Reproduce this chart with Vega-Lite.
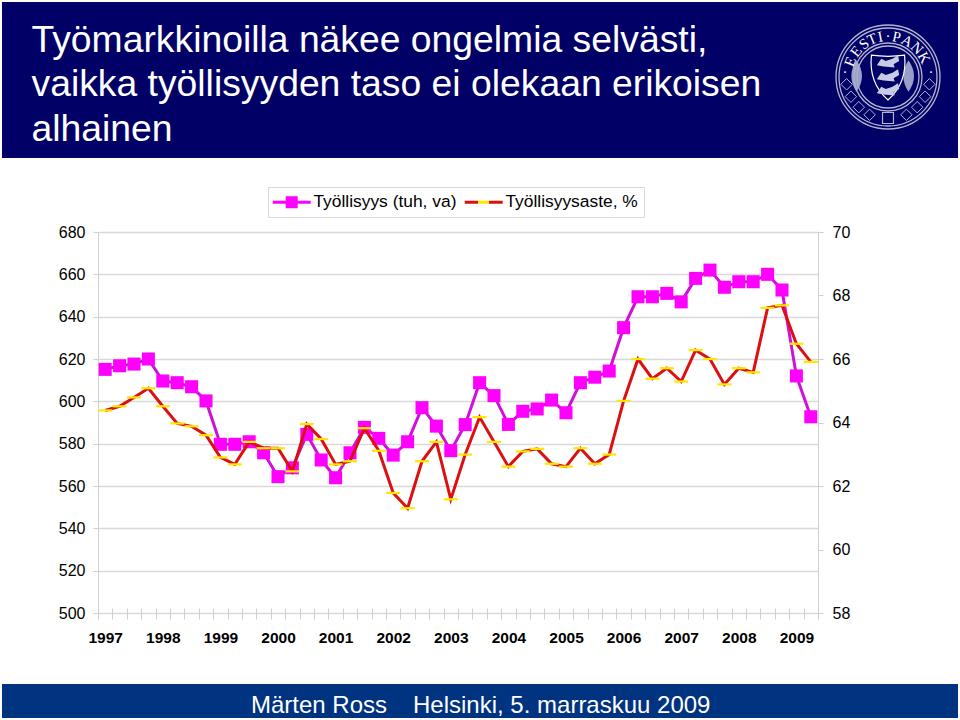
{"$schema":"https://vega.github.io/schema/vega-lite/v6.json","background":"white","padding":{"left":1,"top":2,"right":2,"bottom":0},"spacing":0,"align":"none","bounds":"full","center":false,"config":{"font":"Liberation Sans","view":{"stroke":null}},"vconcat":[
{"width":956,"height":156,"view":{"fill":"#000066","stroke":null},
"encoding":{"x":{"field":"x","type":"quantitative","scale":{"domain":[0,956]},"axis":null},"y":{"field":"y","type":"quantitative","scale":{"domain":[156,0]},"axis":null}},
"layer":[
{"data":{"values":[{"x":29.5,"y":50,"t":"Työmarkkinoilla näkee ongelmia selvästi,"},{"x":29.5,"y":94,"t":"vaikka työllisyyden taso ei olekaan erikoisen"},{"x":29.5,"y":139,"t":"alhainen"}]},"mark":{"type":"text","align":"left","baseline":"alphabetic","fontSize":37.3,"color":"white"},"encoding":{"text":{"field":"t"}}},
{"data":{"values":[{"x":886,"y":75,"d":104},{"x":886,"y":75,"d":98},{"x":886,"y":75,"d":68},{"x":886,"y":75,"d":62}]},"mark":{"type":"point","shape":"circle","filled":false,"color":"white","strokeWidth":1.3},"encoding":{"size":{"field":"d","type":"quantitative","scale":{"type":"pow","exponent":2,"domain":[10,100],"range":[100,10000]},"legend":null}}},
{"data":{"values":[{"x":860,"y":74},{"x":912,"y":74}]},"mark":{"type":"point","shape":"M-0.35,-1Q0.35,0 -0.35,1Q-1,0 -0.35,-1Z","filled":true,"color":"#aab0d0","size":1000,"opacity":0.9}},
{"data":{"values":[{"x":886,"y":75}]},"mark":{"type":"point","shape":"M-0.72,-0.95Q0,-0.85 0.72,-0.95Q0.85,0.25 0,1Q-0.85,0.25 -0.72,-0.95Z","filled":true,"fill":"#000066","stroke":"white","strokeWidth":1.2,"size":2116,"opacity":1}},
{"data":{"values":[{"x":886,"y":60},{"x":886,"y":74},{"x":886,"y":88}]},"mark":{"type":"point","shape":"M-1,0.3L-0.6,-0.3L-0.2,-0.1L0.4,-0.3L0.9,-0.6L1,-0.1L0.5,0.2L0.6,0.5L-0.4,0.4Z","filled":true,"color":"#c8cbe4","size":500,"opacity":1}},
{"data":{"values":[{"x":927.4,"y":82.3},{"x":923.1,"y":94.7},{"x":915.2,"y":105.2},{"x":904.4,"y":112.8},{"x":844.6,"y":82.3},{"x":848.9,"y":94.7},{"x":856.8,"y":105.2},{"x":867.6,"y":112.8}]},"mark":{"type":"point","shape":"diamond","filled":false,"color":"white","strokeWidth":1,"size":130}},
{"data":{"values":[{"x":886,"y":116}]},"mark":{"type":"point","shape":"square","filled":false,"color":"white","strokeWidth":1.2,"size":120}},
{"data":{"values":[{"x":848,"y":59.6,"a":-68,"t":"E"},{"x":854.1,"y":49.2,"a":-51,"t":"E"},{"x":861.9,"y":41.8,"a":-36,"t":"S"},{"x":870,"y":37.2,"a":-23,"t":"T"},{"x":878.2,"y":34.7,"a":-11,"t":"I"},{"x":886,"y":34,"a":0,"t":"·"},{"x":894.5,"y":34.9,"a":12,"t":"P"},{"x":905.2,"y":38.8,"a":28,"t":"A"},{"x":915,"y":46,"a":45,"t":"N"},{"x":922.2,"y":55.8,"a":62,"t":"K"},{"x":843,"y":70,"a":0,"t":"·"},{"x":929,"y":70,"a":0,"t":"·"}]},"mark":{"type":"text","font":"Liberation Serif","fontSize":15,"color":"white","baseline":"middle"},"encoding":{"text":{"field":"t"},"angle":{"field":"a","type":"quantitative","scale":null}}}
]},
{"width":956,"height":65,"view":{"stroke":null},"data":{"values":[{"x":0}]},"mark":{"type":"rule","opacity":0},"encoding":{}},
{"hconcat":[
{"width":96,"height":381,"view":{"stroke":null},"data":{"values":[{"x":0}]},"mark":{"type":"rule","opacity":0},"encoding":{}},
{"width":720,"height":381,"view":{"stroke":null},
"data":{"values":[
{"q":"1997Q1","emp":615.1,"rate":64.38},{"q":"1997Q2","emp":616.8,"rate":64.51},{"q":"1997Q3","emp":617.6,"rate":64.79},{"q":"1997Q4","emp":620,"rate":65.08},
{"q":"1998Q1","emp":609.6,"rate":64.51},{"q":"1998Q2","emp":608.8,"rate":63.97},{"q":"1998Q3","emp":606.9,"rate":63.88},{"q":"1998Q4","emp":600.2,"rate":63.6},
{"q":"1999Q1","emp":579.7,"rate":62.9},{"q":"1999Q2","emp":579.7,"rate":62.68},{"q":"1999Q3","emp":580.9,"rate":63.39},{"q":"1999Q4","emp":575.7,"rate":63.19},
{"q":"2000Q1","emp":564.4,"rate":63.19},{"q":"2000Q2","emp":568.6,"rate":62.46},{"q":"2000Q3","emp":584.4,"rate":63.95},{"q":"2000Q4","emp":572.3,"rate":63.48},
{"q":"2001Q1","emp":563.9,"rate":62.68},{"q":"2001Q2","emp":575.7,"rate":62.78},{"q":"2001Q3","emp":587.7,"rate":63.82},{"q":"2001Q4","emp":582.5,"rate":63.11},
{"q":"2002Q1","emp":574.6,"rate":61.78},{"q":"2002Q2","emp":580.9,"rate":61.3},{"q":"2002Q3","emp":597,"rate":62.78},{"q":"2002Q4","emp":588.3,"rate":63.39},
{"q":"2003Q1","emp":576.7,"rate":61.58},{"q":"2003Q2","emp":589,"rate":62.99},{"q":"2003Q3","emp":608.8,"rate":64.17},{"q":"2003Q4","emp":602.7,"rate":63.39},
{"q":"2004Q1","emp":589.1,"rate":62.61},{"q":"2004Q2","emp":595.3,"rate":63.09},{"q":"2004Q3","emp":596.4,"rate":63.17},{"q":"2004Q4","emp":600.6,"rate":62.7},
{"q":"2005Q1","emp":594.6,"rate":62.61},{"q":"2005Q2","emp":608.8,"rate":63.19},{"q":"2005Q3","emp":611.4,"rate":62.7},{"q":"2005Q4","emp":614.3,"rate":62.99},
{"q":"2006Q1","emp":634.8,"rate":64.68},{"q":"2006Q2","emp":649.4,"rate":66},{"q":"2006Q3","emp":649.4,"rate":65.38},{"q":"2006Q4","emp":651,"rate":65.71},
{"q":"2007Q1","emp":647,"rate":65.29},{"q":"2007Q2","emp":658.1,"rate":66.28},{"q":"2007Q3","emp":662,"rate":66},{"q":"2007Q4","emp":653.9,"rate":65.2},
{"q":"2008Q1","emp":656.5,"rate":65.71},{"q":"2008Q2","emp":656.5,"rate":65.58},{"q":"2008Q3","emp":660,"rate":67.61},{"q":"2008Q4","emp":652.6,"rate":67.69},
{"q":"2009Q1","emp":612,"rate":66.48},{"q":"2009Q2","emp":592.7,"rate":65.91}]},
"encoding":{"x":{"field":"q","type":"ordinal","sort":null,"scale":{"type":"band","paddingInner":0,"paddingOuter":0},"axis":{"title":" ","titleFontSize":1,"titlePadding":37.5,"labelExpr":"indexof(datum.label,'Q1')>0 ? substring(datum.label,0,4) : ''","labelOverlap":false,"labelAngle":0,"labelFontWeight":"bold","labelFontSize":15.5,"labelColor":"black","labelPadding":11,"domain":false,"offset":-5,"ticks":true,"tickBand":"extent","tickSize":11,"tickColor":"#d0d0d0","grid":false}}},
"layer":[
{"encoding":{"y":{"field":"emp","type":"quantitative","scale":{"domain":[500,680],"nice":false,"zero":false},"axis":{"values":[500,520,540,560,580,600,620,640,660,680],"title":null,"labelFontSize":16,"labelColor":"black","labelPadding":8,"tickSize":5,"tickColor":"#d0d0d0","domainColor":"#d0d0d0","grid":true,"gridColor":"#d9d9d9","gridWidth":1.3}}},
"layer":[
{"mark":{"type":"line","strokeWidth":3},"encoding":{"color":{"datum":"Työllisyys (tuh, va)","type":"nominal","scale":{"domain":["Työllisyys (tuh, va)","Työllisyysaste, %"],"range":["#D010D8","#DD1010"]},"legend":{"title":null,"orient":"none","legendX":266,"legendY":185,"direction":"horizontal","columns":2,"padding":6,"strokeColor":"#d9d9d9","fillColor":"white","labelFontSize":17.4,"labelColor":"black","labelOffset":22,"columnPadding":7,"symbolSize":100,"encode":{"symbols":{"update":{"shape":[{"test":"datum.value==='Työllisyysaste, %'","value":"M-2,-0.3H5.6V0.3H-2Z"},{"value":"M-2,-0.3H0.6V-1.2H3V-0.3H5.6V0.3H3V1.2H0.6V0.3H-2Z"}],"fill":[{"test":"datum.value==='Työllisyysaste, %'","value":{"gradient":"linear","x1":0,"x2":1,"y1":0,"y2":0,"stops":[{"offset":0,"color":"#DD1010"},{"offset":0.35,"color":"#DD1010"},{"offset":0.35,"color":"#FFE800"},{"offset":0.65,"color":"#FFE800"},{"offset":0.65,"color":"#DD1010"},{"offset":1,"color":"#DD1010"}]}},{"value":"#FF00FF"}],"strokeWidth":{"value":0}}}}}}}},
{"mark":{"type":"point","shape":"square","filled":true,"color":"#FF00FF","size":170,"opacity":1}}
]},
{"encoding":{"y":{"field":"rate","type":"quantitative","scale":{"domain":[58,70],"nice":false,"zero":false},"axis":{"orient":"right","values":[58,60,62,64,66,68,70],"title":null,"labelFontSize":16,"labelColor":"black","labelPadding":9,"tickSize":5,"tickColor":"#d0d0d0","domainColor":"#d0d0d0","grid":false}}},
"layer":[
{"mark":{"type":"line","strokeWidth":3},"encoding":{"color":{"datum":"Työllisyysaste, %","type":"nominal"}}},
{"mark":{"type":"point","shape":"M-1,-0.16H1V0.16H-1Z","filled":true,"color":"#FFE800","size":196,"opacity":1}}
]}
],
"resolve":{"scale":{"y":"independent"}}}
],"spacing":0,"bounds":"flush"},
{"width":956,"height":34,"view":{"fill":"#003380","stroke":null},
"data":{"values":[{"x":249,"y":29,"t":"Märten Ross"},{"x":411,"y":29,"t":"Helsinki, 5. marraskuu 2009"}]},
"mark":{"type":"text","align":"left","baseline":"alphabetic","fontSize":24,"color":"white"},
"encoding":{"x":{"field":"x","type":"quantitative","scale":{"domain":[0,956]},"axis":null},"y":{"field":"y","type":"quantitative","scale":{"domain":[34,0]},"axis":null},"text":{"field":"t"}}}
]}
